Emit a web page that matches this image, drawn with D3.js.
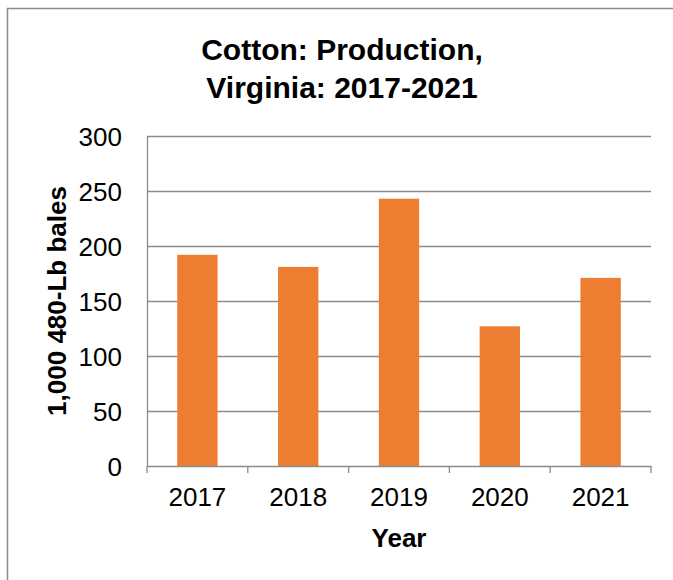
<!doctype html>
<html>
<head>
	<script src="https://d3js.org/d3.v7.min.js"></script>
	<style>
		body { margin: 0; background: #fff; }
		text { font-family: "Liberation Sans", Arial, sans-serif; }
	</style>
</head>
<body>
	<div id="chart"></div>
	<script>
		// data
		var years = ["2017", "2018", "2019", "2020", "2021"];
		var bales = [192, 181, 243, 127, 171];
		var yTicks = [0, 50, 100, 150, 200, 250, 300];

		var W = 673, H = 580;
		var margin = {top: 136, right: 22, bottom: 114, left: 147};
		var width = W - margin.left - margin.right,
			height = H - margin.top - margin.bottom;

		var svg = d3.select("#chart")
		  .append("svg")
			.attr("width", W)
			.attr("height", H);

		// chart area border
		svg.append("rect")
			.attr("x", 7.5).attr("y", 8.5)
			.attr("width", W + 10).attr("height", H + 10)
			.attr("fill", "none")
			.attr("stroke", "#8c8c8c")
			.attr("stroke-width", 1.5);

		var g = svg.append("g")
			.attr("transform", "translate(" + margin.left + "," + margin.top + ")");

		var x = d3.scaleBand()
			.domain(years)
			.range([0, width])
			.paddingInner(0.6)
			.paddingOuter(0.3);
		var xb = d3.scaleBand().domain(years).range([0, width]);

		var y = d3.scaleLinear()
			.domain([0, 300])
			.range([height, 0]);

		// gridlines
		g.append("g")
			.selectAll("line")
			.data(yTicks.slice(1))
			.enter().append("line")
			  .attr("x1", 0).attr("x2", width)
			  .attr("y1", function(d) { return Math.round(y(d)) + 0.5; })
			  .attr("y2", function(d) { return Math.round(y(d)) + 0.5; })
			  .attr("stroke", "#8c8c8c")
			  .attr("stroke-width", 1.3);

		// bars
		g.append("g")
			.selectAll("rect")
			.data(years)
			.enter().append("rect")
			  .attr("x", function(d) { return x(d); })
			  .attr("width", x.bandwidth())
			  .attr("y", function(d, i) { return y(bales[i]); })
			  .attr("height", function(d, i) { return height - y(bales[i]); })
			  .attr("fill", "#ED7D31");

		// y axis
		var yAxis = g.append("g")
			.call(d3.axisLeft(y).tickValues(yTicks).tickSize(0).tickPadding(25));
		yAxis.select(".domain").attr("stroke", "#8c8c8c").attr("stroke-width", 1.3);
		yAxis.selectAll("text")
			.style("font-size", "26px")
			.attr("fill", "#000")
			.attr("dy", "0.36em");

		// x axis
		var xAxis = g.append("g")
			.attr("transform", "translate(0," + height + ")")
			.call(d3.axisBottom(xb).tickSize(0).tickPadding(22));
		xAxis.select(".domain").attr("stroke", "#8c8c8c").attr("stroke-width", 1.3);
		xAxis.selectAll("text")
			.style("font-size", "26px")
			.attr("fill", "#000");
		// tick marks at category boundaries
		xAxis.append("g")
			.selectAll("line")
			.data(years.concat(["end"]))
			.enter().append("line")
			  .attr("x1", function(d, i) { return i < years.length ? xb(d) : width; })
			  .attr("x2", function(d, i) { return i < years.length ? xb(d) : width; })
			  .attr("y1", 0).attr("y2", 7)
			  .attr("stroke", "#8c8c8c")
			  .attr("stroke-width", 1.3);

		// titles
		svg.append("text")
			.attr("x", 342).attr("y", 60)
			.attr("text-anchor", "middle")
			.style("font-size", "30px").style("font-weight", "bold")
			.text("Cotton: Production,");
		svg.append("text")
			.attr("x", 342).attr("y", 98)
			.attr("text-anchor", "middle")
			.style("font-size", "30px").style("font-weight", "bold")
			.text("Virginia: 2017-2021");

		svg.append("text")
			.attr("x", margin.left + width / 2).attr("y", 547)
			.attr("text-anchor", "middle")
			.style("font-size", "26px").style("font-weight", "bold")
			.text("Year");

		svg.append("text")
			.attr("transform", "translate(66," + (margin.top + height / 2) + ") rotate(-90)")
			.attr("text-anchor", "middle")
			.style("font-size", "26px").style("font-weight", "bold")
			.text("1,000 480-Lb bales");
	</script>
</body>
</html>
